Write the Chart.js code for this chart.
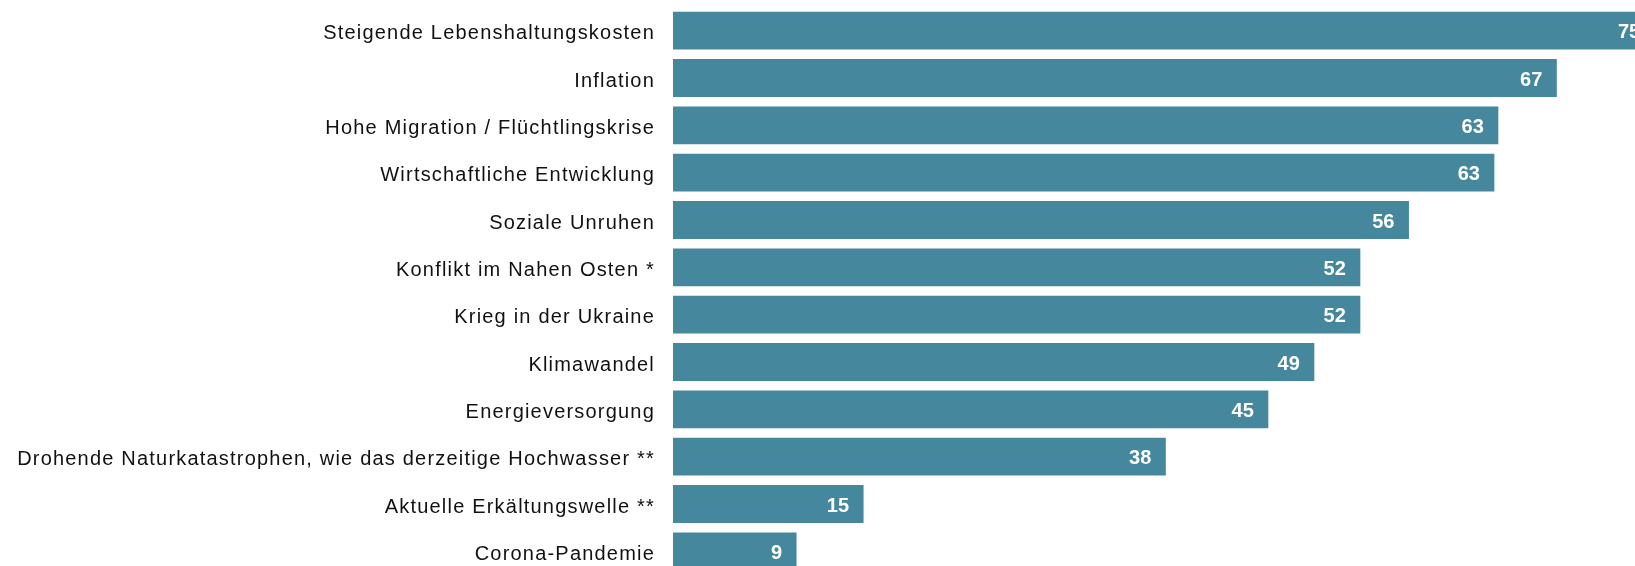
<!DOCTYPE html>
<html lang="de">
<head>
<meta charset="utf-8">
<title>Sorgen</title>
<script src="https://cdn.jsdelivr.net/npm/chart.js@4.4.1/dist/chart.umd.min.js"></script>
<style>
  html, body { margin: 0; padding: 0; background: #fff; overflow: hidden; }
  #wrap { width: 1635px; height: 575px; }
</style>
</head>
<body>
<div id="wrap"><canvas id="sorgenChart" width="1635" height="575"></canvas></div>
<script>
// Kategorien und Werte (in %)
const categories = [
  'Steigende Lebenshaltungskosten',
  'Inflation',
  'Hohe Migration / Flüchtlingskrise',
  'Wirtschaftliche Entwicklung',
  'Soziale Unruhen',
  'Konflikt im Nahen Osten *',
  'Krieg in der Ukraine',
  'Klimawandel',
  'Energieversorgung',
  'Drohende Naturkatastrophen, wie das derzeitige Hochwasser **',
  'Aktuelle Erkältungswelle **',
  'Corona-Pandemie'
];
const values = [74.7, 67.25, 62.8, 62.5, 56.0, 52.3, 52.3, 48.8, 45.3, 37.5, 14.5, 9.4];
const axisMax = 73.2;

const barColor = '#45889e';

// Werte weiß und fett ans Balkenende schreiben
const valueLabels = {
  id: 'valueLabels',
  beforeDraw(chart) {
    chart.ctx.letterSpacing = '1.2px';
  },
  afterDatasetsDraw(chart) {
    const ctx = chart.ctx;
    ctx.save();
    ctx.letterSpacing = '0px';
    ctx.font = 'bold 20px "Liberation Sans", Arial, sans-serif';
    ctx.fillStyle = '#ffffff';
    ctx.textAlign = 'right';
    ctx.textBaseline = 'middle';
    chart.getDatasetMeta(0).data.forEach((bar, i) => {
      ctx.fillText(String(Math.round(values[i])), bar.x - 14.5, bar.y + 2);
    });
    ctx.restore();
  }
};

new Chart(document.getElementById('sorgenChart'), {
  type: 'bar',
  data: {
    labels: categories,
    datasets: [{
      data: values,
      backgroundColor: barColor,
      borderWidth: 0,
      categoryPercentage: 0.8,
      barPercentage: 1.0,
      clip: false
    }]
  },
  options: {
    indexAxis: 'y',
    responsive: false,
    animation: false,
    devicePixelRatio: 1,
    layout: { padding: { top: 7, bottom: 0, left: 0, right: 0 } },
    plugins: { legend: { display: false }, tooltip: { enabled: false } },
    scales: {
      x: { display: false, min: 0, max: axisMax },
      y: {
        grid: { display: false, drawTicks: false },
        border: { display: false },
        ticks: {
          color: '#111111',
          padding: 18,
          labelOffset: 3,
          font: { family: '"Liberation Sans", Arial, sans-serif', size: 20 }
        },
        afterFit(scale) {
          scale.width = 673;
          scale.paddingTop = 0;
          scale.paddingBottom = 0;
        }
      }
    }
  },
  plugins: [valueLabels]
});
</script>
</body>
</html>
